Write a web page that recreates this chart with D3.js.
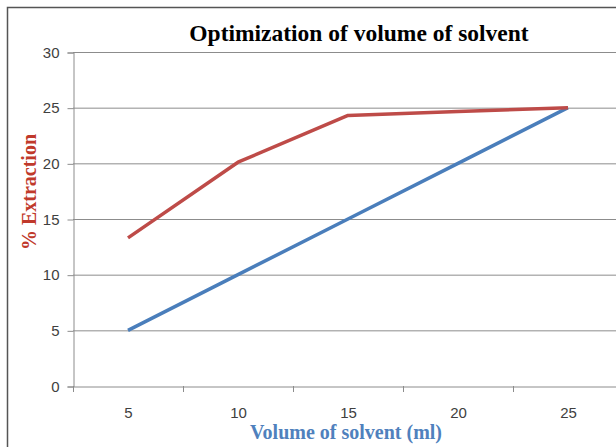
<!DOCTYPE html>
<html><head><meta charset="utf-8">
<script src="https://cdn.jsdelivr.net/npm/d3@7"></script>
<style>body{margin:0;background:#fff}svg{display:block}</style>
</head><body>
<script>
const categories = ["5","10","15","20","25"];
const seriesRed = [13.3, 20.1, 24.3, 24.65, 25.0];
const seriesBlue = [5, 10, 15, 20, 25];
const yTicks = [0,5,10,15,20,25,30];
const title = "Optimization of volume of solvent";
const xTitle = "Volume of solvent (ml)";
const yTitle = "% Extraction";

(function(){
const W = 616, H = 447;
const svg = d3.select("body").append("svg").attr("width", W).attr("height", H);

// outer frame
svg.append("rect").attr("x",7.5).attr("y",7.5).attr("width",W+20).attr("height",H+20)
  .attr("fill","none").attr("stroke","#555").attr("stroke-width",1.5);

const mLeft = 73, mRight = 623, mTop = 52, mBottom = 386;
const x = d3.scaleBand().domain(categories).range([mLeft, mRight]);
const y = d3.scaleLinear().domain([0,30]).range([mBottom, mTop]);
const tickFont = "'Liberation Sans', Arial, sans-serif";

// gridlines
svg.append("g").selectAll("line").data(yTicks.filter(d=>d>0)).join("line")
  .attr("x1", mLeft).attr("x2", mRight)
  .attr("y1", d=>y(d)+0.5).attr("y2", d=>y(d)+0.5)
  .attr("stroke","#8c8c8c").attr("stroke-width",1);

// y axis
const ya = svg.append("g").attr("transform",`translate(${mLeft+0.5},0.5)`)
  .call(d3.axisLeft(y).tickValues(yTicks).tickSize(6).tickPadding(8));
ya.attr("font-size",15).attr("font-family",tickFont);
ya.select(".domain").attr("stroke","#8c8c8c");
ya.selectAll(".tick line").attr("stroke","#8c8c8c");
ya.selectAll("text").attr("fill","#404040");

// x axis
const xa = svg.append("g").attr("transform",`translate(0.5,${mBottom+0.5})`)
  .call(d3.axisBottom(x).tickSize(0).tickPadding(21));
xa.attr("font-size",15).attr("font-family",tickFont);
xa.select(".domain").attr("stroke","#8c8c8c");
xa.selectAll("text").attr("fill","#404040");
// boundary ticks
svg.append("g").selectAll("line").data(categories).join("line")
  .attr("x1", d=>x(d)+0.5).attr("x2", d=>x(d)+0.5)
  .attr("y1", mBottom).attr("y2", mBottom+6)
  .attr("stroke","#8c8c8c");

const line = d3.line().x((d,i)=>x(categories[i])+x.bandwidth()/2).y(d=>y(d));
svg.append("path").datum(seriesBlue).attr("d", line)
  .attr("fill","none").attr("stroke","#4a7ebb").attr("stroke-width",3.5).attr("stroke-linejoin","round");
svg.append("path").datum(seriesRed).attr("d", line)
  .attr("fill","none").attr("stroke","#be4b48").attr("stroke-width",3.5).attr("stroke-linejoin","round");

// titles
const serif = "'Liberation Serif','Times New Roman',serif";
svg.append("text").attr("x",359).attr("y",41).attr("text-anchor","middle")
  .attr("font-family",serif).attr("font-weight","bold").attr("font-size",23.5)
  .attr("fill","#000").text(title);
svg.append("text").attr("x",346).attr("y",439).attr("text-anchor","middle")
  .attr("font-family",serif).attr("font-weight","bold").attr("font-size",20)
  .attr("fill","#4f81bd").text(xTitle);
svg.append("text").attr("transform","translate(36,192) rotate(-90)").attr("text-anchor","middle")
  .attr("font-family",serif).attr("font-weight","bold").attr("font-size",20)
  .attr("fill","#c0392b").text(yTitle);
})();
</script>
</body></html>
